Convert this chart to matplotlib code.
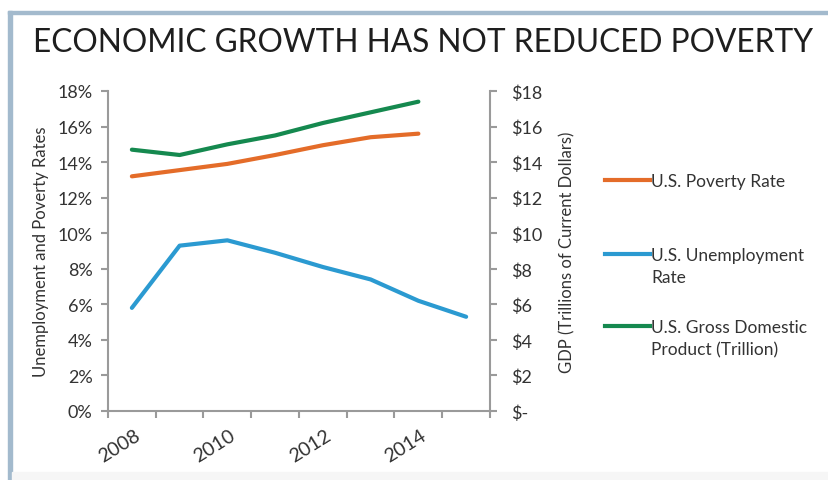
import matplotlib
matplotlib.use('Agg')
import matplotlib.pyplot as plt
import matplotlib.transforms as mtransforms
from matplotlib.lines import Line2D
from matplotlib.patches import Rectangle

# data
years = [2008, 2009, 2010, 2011, 2012, 2013, 2014, 2015]
poverty = [13.2, 13.55, 13.9, 14.4, 14.95, 15.4, 15.6]          # % (2008-2014)
unemployment = [5.8, 9.3, 9.6, 8.9, 8.1, 7.4, 6.2, 5.3]         # % (2008-2015)
gdp = [14.7, 14.4, 15.0, 15.5, 16.2, 16.8, 17.4]                # $ trillion (2008-2014)
tick_years = [2008, 2010, 2012, 2014]
legend_labels = ['U.S. Poverty Rate', 'U.S. Unemployment\nRate',
                 'U.S. Gross Domestic\nProduct (Trillion)']

c_pov = '#e46c29'
c_unemp = '#2b9ad1'
c_gdp = '#15894f'
c_axis = '#9a9a9a'
c_text = '#333333'

plt.rcParams['font.family'] = ['Lato', 'DejaVu Sans']

W, H = 829, 481
fig = plt.figure(figsize=(W / 100, H / 100), dpi=100)

# frame decoration: top / left light blue rules and grey bottom band
fig.patches.append(Rectangle((8/W, 0), 4/W, 1 - 12/H, transform=fig.transFigure,
                             color='#a3bacd', zorder=0))
fig.patches.append(Rectangle((8/W, 1 - 15/H), 1, 3/H, transform=fig.transFigure,
                             color='#a3bacd', zorder=0))
fig.patches.append(Rectangle((12/W, 0), 1, 8/H, transform=fig.transFigure,
                             color='#f6f6f6', zorder=0))

fig.text(33/W, 1 - 43/H, 'ECONOMIC GROWTH HAS NOT REDUCED POVERTY',
         fontsize=22.8, color='#1e1e1e', va='center', ha='left')

ax = fig.add_axes([108/W, 1 - 412/H, (490 - 108)/W, (412 - 92)/H])
ax2 = ax.twinx()

xs = list(range(len(years)))
ax.plot(xs[:len(poverty)], poverty, color=c_pov, lw=3, solid_capstyle='round')
ax.plot(xs[:len(unemployment)], unemployment, color=c_unemp, lw=3, solid_capstyle='round')
ax2.plot(xs[:len(gdp)], gdp, color=c_gdp, lw=3, solid_capstyle='round')

ax.set_xlim(-0.5, len(years) - 0.5)
ax.set_ylim(0, 18)
ax2.set_ylim(0, 18)

for a in (ax, ax2):
    for s in a.spines.values():
        s.set_visible(False)
ax.spines['left'].set_visible(True)
ax.spines['bottom'].set_visible(True)
ax2.spines['right'].set_visible(True)
for s in (ax.spines['left'], ax.spines['bottom'], ax2.spines['right']):
    s.set_color(c_axis)
    s.set_linewidth(1.5)

ax.set_yticks(range(0, 19, 2))
ax.set_yticklabels(['%d%%' % v for v in range(0, 19, 2)])
ax2.set_yticks(range(0, 19, 2))
ax2.set_yticklabels(['$-' if v == 0 else '$%d' % v for v in range(0, 19, 2)])

# category boundaries as major ticks, labels on minor ticks
ax.set_xticks([i - 0.5 for i in range(len(years) + 1)])
ax.set_xticklabels([])
ax.set_xticks([years.index(y) for y in tick_years], minor=True)
ax.set_xticklabels([str(y) for y in tick_years], minor=True, rotation=32,
                   ha='right', va='top', rotation_mode='anchor')

ax.tick_params(axis='y', direction='out', length=5, width=1.5, color=c_axis,
               labelsize=13, labelcolor=c_text, pad=6)
ax2.tick_params(axis='y', direction='out', length=5, width=1.5, color=c_axis,
                labelsize=13, labelcolor=c_text, pad=10)
ax.tick_params(axis='x', which='major', direction='out', length=5, width=1.5, color=c_axis)
ax.tick_params(axis='x', which='minor', length=0, labelsize=14, labelcolor=c_text, pad=11)
for lbl in ax.get_xticklabels(minor=True):
    lbl.set_transform(lbl.get_transform() +
                      mtransforms.ScaledTranslation(2/100, 0, fig.dpi_scale_trans))

ax.set_ylabel('Unemployment and Poverty Rates', fontsize=12, color=c_text, labelpad=6)
ax2.set_ylabel('GDP (Trillions of Current Dollars)', fontsize=12, color=c_text, labelpad=12)

# legend drawn by hand so the key line sits on the first text line
legend_colors = [c_pov, c_unemp, c_gdp]
legend_y = [181, 255, 327]
for lab, col, y in zip(legend_labels, legend_colors, legend_y):
    fig.add_artist(Line2D([605/W, 650/W], [1 - y/H, 1 - y/H], color=col, lw=3,
                          transform=fig.transFigure))
    fig.text(651/W, 1 - (y - 7)/H, lab, fontsize=12.5, color=c_text,
             ha='left', va='top', linespacing=1.45)

fig.savefig('out.png', dpi=100)
